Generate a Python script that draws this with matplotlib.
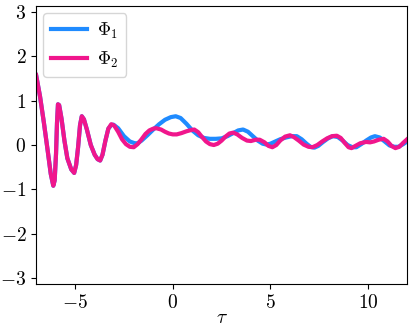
import matplotlib
matplotlib.use("Agg")
from matplotlib import pyplot as plt

plt.rcParams['font.family'] = 'cmr10'
plt.rcParams['mathtext.fontset'] = 'cm'
plt.rcParams['axes.formatter.use_mathtext'] = True
plt.rcParams['font.size'] = 14

# shared part of both curves (they overlap up to about tau = -3.3)
tau_start = [-7.0, -6.8, -6.6, -6.4, -6.25, -6.12, -6.05, -5.98, -5.93, -5.88,
             -5.82, -5.7, -5.55, -5.4, -5.2, -5.05, -4.95, -4.85, -4.75, -4.66,
             -4.55, -4.4, -4.2, -4.0, -3.85, -3.72, -3.6, -3.45, -3.3]
phi_start = [1.58, 1.1, 0.5, -0.15, -0.65, -0.92, -0.8, -0.2, 0.5, 0.92,
             0.9, 0.6, 0.1, -0.3, -0.55, -0.63, -0.45, -0.05, 0.45, 0.65,
             0.58, 0.35, 0.0, -0.22, -0.32, -0.35, -0.22, 0.1, 0.37]

tau_1 = [-3.15, -3.04, -2.8, -2.5, -2.2, -1.95, -1.8, -1.6, -1.3, -1.0,
         -0.7, -0.4, -0.1, 0.15, 0.4, 0.7, 1.0, 1.3, 1.6, 1.9,
         2.2, 2.5, 2.8, 3.1, 3.35, 3.6, 3.85, 4.1, 4.35, 4.6,
         4.8, 5.0, 5.25, 5.5, 5.8, 6.1, 6.35, 6.6, 6.85, 7.05,
         7.25, 7.45, 7.7, 7.95, 8.2, 8.45, 8.7, 8.95, 9.2, 9.4,
         9.65, 9.9, 10.15, 10.35, 10.6, 10.85, 11.1, 11.35, 11.55, 11.8, 12.0]
phi_1 = [0.45, 0.46, 0.38, 0.2, 0.08, 0.04, 0.04, 0.1, 0.22, 0.35,
         0.47, 0.57, 0.63, 0.65, 0.61, 0.48, 0.33, 0.22, 0.16, 0.14,
         0.14, 0.15, 0.2, 0.27, 0.33, 0.35, 0.3, 0.2, 0.1, 0.03,
         0.01, 0.03, 0.08, 0.13, 0.17, 0.2, 0.2, 0.13, 0.03, -0.04,
         -0.06, -0.02, 0.07, 0.15, 0.2, 0.18, 0.1, 0.0, -0.05, -0.05,
         0.02, 0.1, 0.17, 0.2, 0.17, 0.08, -0.01, -0.04, -0.04, 0.02, 0.08]

tau_2 = [-3.15, -3.0, -2.8, -2.6, -2.4, -2.2, -2.0, -1.8, -1.6, -1.4,
         -1.2, -1.0, -0.85, -0.6, -0.4, -0.2, 0.0, 0.2, 0.45, 0.7,
         0.95, 1.1, 1.3, 1.5, 1.7, 1.9, 2.1, 2.3, 2.5, 2.7,
         2.9, 3.1, 3.3, 3.55, 3.8, 4.0, 4.25, 4.45, 4.7, 4.9,
         5.1, 5.3, 5.5, 5.75, 6.0, 6.2, 6.45, 6.7, 6.95, 7.15,
         7.4, 7.65, 7.9, 8.15, 8.4, 8.6, 8.8, 9.0, 9.15, 9.35,
         9.6, 9.9, 10.1, 10.3, 10.55, 10.8, 11.0, 11.2, 11.4, 11.6, 11.8, 12.0]
phi_2 = [0.47, 0.44, 0.3, 0.13, 0.02, -0.04, -0.05, 0.02, 0.13, 0.25,
         0.33, 0.37, 0.38, 0.35, 0.3, 0.26, 0.24, 0.24, 0.27, 0.31,
         0.34, 0.35, 0.29, 0.18, 0.08, 0.02, 0.0, 0.03, 0.1, 0.19,
         0.26, 0.28, 0.24, 0.16, 0.1, 0.09, 0.12, 0.12, 0.06, -0.02,
         -0.05, 0.0, 0.1, 0.19, 0.22, 0.18, 0.1, 0.01, -0.04, -0.05,
         0.0, 0.08, 0.15, 0.2, 0.21, 0.16, 0.05, -0.05, -0.07, -0.02,
         0.04, 0.07, 0.06, 0.08, 0.12, 0.14, 0.08, -0.02, -0.07, -0.04, 0.05, 0.13]

fig = plt.figure(figsize=(4.15, 3.33), dpi=100)
ax = fig.add_axes([0.087, 0.147, 0.894, 0.835])

ax.plot(tau_start + tau_1, phi_start + phi_1, color='#1f8bff', lw=3, label=r'$\Phi_1$')
ax.plot(tau_start + tau_2, phi_start + phi_2, color='#f0168c', lw=3, label=r'$\Phi_2$')

ax.set_xlim(-7, 12)
ax.set_ylim(-3.14, 3.14)
ax.set_xticks([-5, 0, 5, 10])
ax.set_yticks([-3, -2, -1, 0, 1, 2, 3])
ax.set_xlabel(r'$\tau$', labelpad=-2)
ax.legend(loc='upper left', fontsize=13, borderaxespad=0.4, handletextpad=0.6)

plt.savefig('out.png')
